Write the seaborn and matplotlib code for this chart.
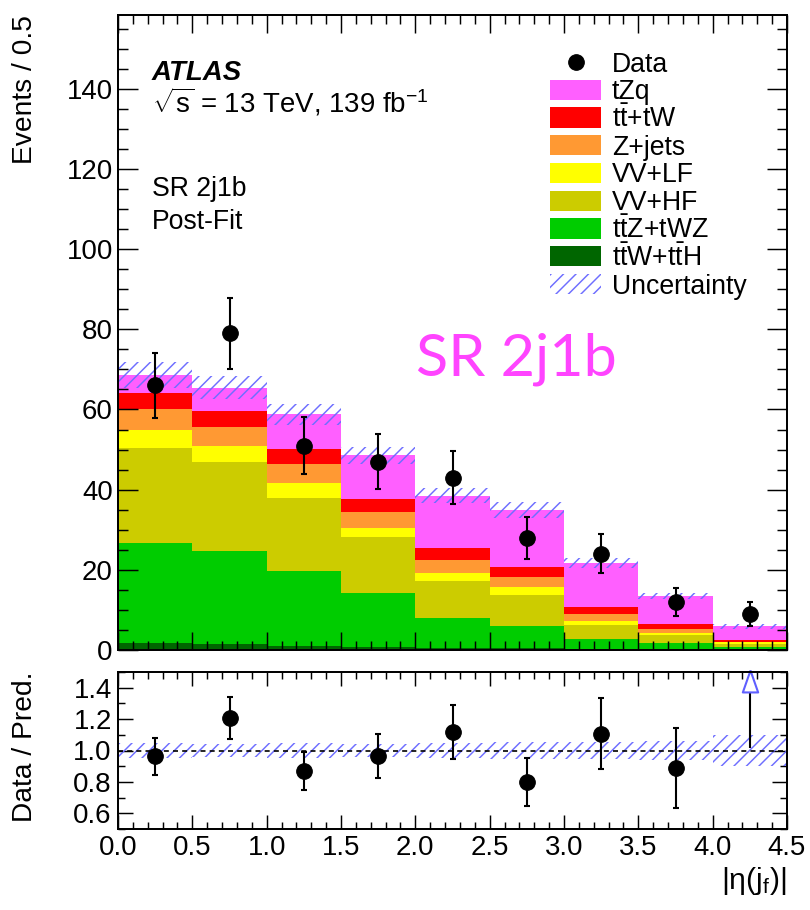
import numpy as np
import pandas as pd
import matplotlib
matplotlib.use("Agg")
import matplotlib.pyplot as plt
import seaborn as sns
from matplotlib.ticker import MultipleLocator, FormatStrFormatter
from matplotlib.patches import Rectangle

# ---------------- data ----------------
bin_edges = [0.0, 0.5, 1.0, 1.5, 2.0, 2.5, 3.0, 3.5, 4.0, 4.5]
processes = ["tZq", "tt_tW", "Zjets", "VVLF", "VVHF", "ttZ_tWZ", "ttW_ttH"]
proc_labels = ["tZq", r"t$\mathrm{\bar{t}}$+tW", "Z+jets", "VV+LF", "VV+HF",
               r"t$\mathrm{\bar{t}}$Z+tWZ", r"t$\mathrm{\bar{t}}$W+t$\mathrm{\bar{t}}$H"]
proc_colors = ["#ff5fff", "#ff0000", "#ff9933", "#ffff00", "#cccc00", "#00cc00", "#006600"]

tzq = [4.6, 5.9, 8.55, 10.85, 13.0, 14.2, 10.95, 7.0, 3.4]
tt_tw = [3.8, 3.8, 3.9, 3.35, 3.0, 2.5, 1.75, 1.2, 0.4]
z_jets = [5.2, 4.9, 4.6, 3.9, 3.3, 2.7, 1.75, 1.0, 0.2]
vv_lf = [4.5, 4.0, 3.7, 2.3, 1.95, 1.8, 1.0, 0.55, 0.4]
vv_hf = [23.7, 22.05, 18.2, 14.1, 9.15, 7.7, 3.5, 2.05, 0.8]
ttz_twz = [25.0, 23.15, 18.8, 13.3, 7.5, 5.6, 2.45, 1.5, 0.6]
ttw_tth = [1.8, 1.6, 1.0, 0.8, 0.6, 0.5, 0.3, 0.2, 0.1]
uncertainty = [3.2, 2.9, 2.65, 2.1, 1.8, 2.0, 1.2, 0.8, 0.6]
data_counts = [66, 79, 51, 47, 43, 28, 24, 12, 9]

# ---------------- style ----------------
plt.rcParams["font.family"] = ["Liberation Sans", "DejaVu Sans"]
plt.rcParams["mathtext.fontset"] = "custom"
plt.rcParams["mathtext.rm"] = "Liberation Sans"
plt.rcParams["mathtext.it"] = "Liberation Sans:italic"
plt.rcParams["mathtext.bf"] = "Liberation Sans:bold"
plt.rcParams["hatch.linewidth"] = 1.4
hatch_blue = "#6e6eff"
plt.rcParams["hatch.color"] = hatch_blue
HATCH = "//"

edges = np.array(bin_edges)
centers = 0.5 * (edges[:-1] + edges[1:])
comp = {"tZq": tzq, "tt_tW": tt_tw, "Zjets": z_jets, "VVLF": vv_lf,
        "VVHF": vv_hf, "ttZ_tWZ": ttz_twz, "ttW_ttH": ttw_tth}
rows = []
for p in processes:
    for c, w in zip(centers, comp[p]):
        rows.append({"x": c, "w": w, "proc": p})
df = pd.DataFrame(rows)
total = np.sum([np.array(comp[p]) for p in processes], axis=0)
unc = np.array(uncertainty)
data = np.array(data_counts, dtype=float)

W, H = 810, 910
fig = plt.figure(figsize=(W / 75, H / 75), dpi=75)
L, R = 118, 787
ax = fig.add_axes([L / W, 1 - 650 / H, (R - L) / W, 635 / H])
rax = fig.add_axes([L / W, 1 - 829 / H, (R - L) / W, 157 / H], sharex=ax)

def frac(px, py):
    return (px - L) / (R - L), (650 - py) / 635

# stacked histogram
sns.histplot(data=df, x="x", weights="w", hue="proc", hue_order=processes,
             palette=dict(zip(processes, proc_colors)), bins=list(bin_edges),
             multiple="stack", element="bars", fill=True, alpha=1,
             linewidth=0, edgecolor="none", legend=False, ax=ax, shrink=1)

# uncertainty band
lo = np.append(total - unc, (total - unc)[-1])
hi = np.append(total + unc, (total + unc)[-1])
ax.fill_between(edges, lo, hi, step="post", facecolor="none",
                edgecolor=hatch_blue, linewidth=0, hatch=HATCH, zorder=3)

# data
ax.errorbar(centers, data, yerr=np.sqrt(data), fmt="o", color="k", ms=15,
            elinewidth=2, capsize=2.5, capthick=2, zorder=5)

ax.set_xlim(0, 4.5)
ax.set_ylim(0, 158.4)
ax.set_xlabel("")
ax.set_ylabel("Events / 0.5", fontsize=27, loc="top", labelpad=8)
ax.yaxis.set_major_locator(MultipleLocator(20))
ax.yaxis.set_minor_locator(MultipleLocator(5))
ax.xaxis.set_major_locator(MultipleLocator(0.5))
ax.xaxis.set_minor_locator(MultipleLocator(0.1))
ax.tick_params(axis="both", which="both", direction="in", top=True, right=True,
               width=1.4, labelsize=26.5, pad=5)
ax.tick_params(axis="y", which="major", length=19)
ax.tick_params(axis="y", which="minor", length=9.5)
ax.tick_params(axis="x", which="major", length=17)
ax.tick_params(axis="x", which="minor", length=8.5)
ax.tick_params(axis="x", labelbottom=False)
for s in ax.spines.values():
    s.set_linewidth(1.9)
    s.set_zorder(10)

# texts
ax.text(*frac(152, 80), "ATLAS", transform=ax.transAxes, fontsize=26.5,
        fontweight="bold", fontstyle="italic", va="baseline")
ax.text(*frac(152, 113), r"$\sqrt{\mathrm{s}}$ = 13 TeV, 139 fb$^{\mathrm{-1}}$",
        transform=ax.transAxes, fontsize=26.5, va="baseline")
ax.text(*frac(152, 196), "SR 2j1b", transform=ax.transAxes, fontsize=25.5, va="baseline")
ax.text(*frac(152, 229), "Post-Fit", transform=ax.transAxes, fontsize=25.5, va="baseline")
ax.text(*frac(416, 375), "SR 2j1b", transform=ax.transAxes, fontsize=57,
        color="#ff44ff", family=["Lato", "DejaVu Sans"], va="baseline")

# legend (manual, ROOT-like)
row0, pitch = 62, 27.75
bx0, bw, bh = 550, 51, 20
tx = 612
leg_fs = 25.5
xm, ym = frac(bx0 + bw / 2, row0)
ax.plot([xm], [ym], "o", color="k", ms=15, transform=ax.transAxes, clip_on=False, zorder=6)
ax.text(*frac(tx, row0 + 9.5), "Data", transform=ax.transAxes, fontsize=leg_fs, va="baseline")
for i, (lab, col) in enumerate(zip(proc_labels, proc_colors)):
    cy = row0 + pitch * (i + 1)
    x0, y0 = frac(bx0, cy + bh / 2)
    ax.add_patch(Rectangle((x0, y0), bw / (R - L), bh / 635, transform=ax.transAxes,
                           facecolor=col, edgecolor="none", zorder=6))
    ax.text(*frac(tx, cy + 9.5), lab, transform=ax.transAxes, fontsize=leg_fs, va="baseline")
cy = row0 + pitch * 8
x0, y0 = frac(bx0, cy + bh / 2)
ax.add_patch(Rectangle((x0, y0), bw / (R - L), bh / 635, transform=ax.transAxes,
                       facecolor="none", edgecolor=hatch_blue, linewidth=0, hatch=HATCH, zorder=6))
ax.text(*frac(tx, cy + 9.5), "Uncertainty", transform=ax.transAxes, fontsize=leg_fs, va="baseline")

# ---------------- ratio panel ----------------
ratio = data / total
rerr = np.sqrt(data) / total
rel = unc / total
rlo = np.append(1 - rel, 1 - rel[-1])
rhi = np.append(1 + rel, 1 + rel[-1])
rax.fill_between(edges, rlo, rhi, step="post", facecolor="none",
                 edgecolor=hatch_blue, linewidth=0, hatch=HATCH, zorder=2)
rax.axhline(1.0, color="k", lw=1.6, ls=(0, (3, 2.5)), zorder=3)
rtop = 1.5
inr = ratio <= rtop
rax.errorbar(centers[inr], ratio[inr], yerr=rerr[inr], fmt="o", color="k", ms=15,
             elinewidth=2, capsize=2.5, capthick=2, zorder=5)
for xc, rv, re in zip(centers[~inr], ratio[~inr], rerr[~inr]):
    rax.vlines(xc, rv - re, 1.40, color="k", lw=2, zorder=5)
    rax.plot([xc], [1.445], marker=[(0, 1), (-0.7, -1), (0.7, -1), (0, 1)],
             ms=21, mfc="white", mec="#5f5fff", mew=2, zorder=6, clip_on=False)

rax.set_ylim(0.5, 1.5)
rax.set_xlim(0, 4.5)
rax.set_ylabel("Data / Pred.", fontsize=27, loc="top", labelpad=8)
rax.set_xlabel(r"|η(j$_{\mathrm{f}}$)|", fontsize=29, loc="right", labelpad=4)
rax.yaxis.set_major_locator(MultipleLocator(0.2))
rax.yaxis.set_minor_locator(MultipleLocator(0.1))
rax.yaxis.set_major_formatter(FormatStrFormatter("%.1f"))
rax.xaxis.set_major_formatter(FormatStrFormatter("%.1f"))
rax.set_yticks([0.6, 0.8, 1.0, 1.2, 1.4])
rax.tick_params(axis="both", which="both", direction="in", top=True, right=True,
                width=1.4, labelsize=26.5, pad=6)
rax.tick_params(axis="y", which="major", length=14)
rax.tick_params(axis="y", which="minor", length=7)
rax.tick_params(axis="x", which="major", length=13)
rax.tick_params(axis="x", which="minor", length=6.5)
for s in rax.spines.values():
    s.set_linewidth(1.9)
    s.set_zorder(10)

ax.yaxis.set_label_coords(-0.12, 1.0)
rax.yaxis.set_label_coords(-0.12, 1.0)

fig.savefig("out.png", dpi=75)
